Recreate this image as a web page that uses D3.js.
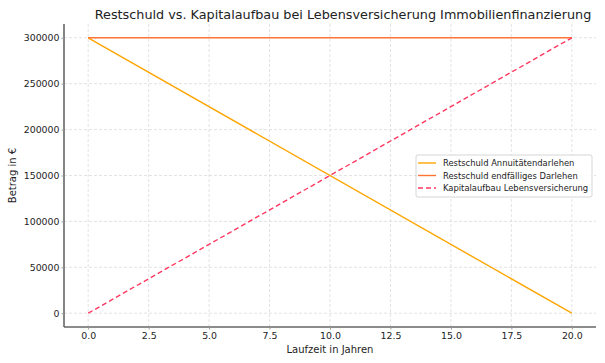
<!DOCTYPE html>
<html><head><meta charset="utf-8">
<script src="https://cdn.jsdelivr.net/npm/d3@7"></script>
<style>body{margin:0;background:#fff}svg{display:block}text{font-family:"DejaVu Sans",sans-serif;fill:#222}</style>
</head><body><svg id="c" width="605" height="363"></svg>
<script>
const years = [0, 20];
const annuitaet = [300000, 0];
const endfaellig = [300000, 300000];
const kapital = [0, 300000];
const xTicks = [0, 2.5, 5, 7.5, 10, 12.5, 15, 17.5, 20];
const yTicks = [0, 50000, 100000, 150000, 200000, 250000, 300000];
const seriesNames = ["Restschuld Annuitätendarlehen", "Restschuld endfälliges Darlehen", "Kapitalaufbau Lebensversicherung"];
const colors = ["#ffa500", "#ff7433", "#ff3860"];
const dashes = [null, null, "5,3"];

const svg = d3.select("#c");
const L = 64, R = 596, T = 24, B = 327;
const x = d3.scaleLinear().domain([-1, 21]).range([L, R]);
const y = d3.scaleLinear().domain([-15000, 315000]).range([B, T]);

// grid
svg.append("g").selectAll("line").data(xTicks).join("line")
  .attr("x1", d => x(d)).attr("x2", d => x(d)).attr("y1", T).attr("y2", B)
  .attr("stroke", "#dcdcdc").attr("stroke-width", 0.8).attr("stroke-dasharray", "3,2");
svg.append("g").selectAll("line").data(yTicks).join("line")
  .attr("y1", d => y(d)).attr("y2", d => y(d)).attr("x1", L).attr("x2", R)
  .attr("stroke", "#dcdcdc").attr("stroke-width", 0.8).attr("stroke-dasharray", "3,2");

// axes
const xa = svg.append("g").attr("transform", `translate(0,${B})`)
  .call(d3.axisBottom(x).tickValues(xTicks).tickFormat(d3.format(".1f")).tickSize(2.5).tickPadding(3));
const ya = svg.append("g").attr("transform", `translate(${L},0)`)
  .call(d3.axisLeft(y).tickValues(yTicks).tickFormat(d => String(d)).tickSize(2.5).tickPadding(2));
[xa, ya].forEach(g => {
  g.select(".domain").attr("stroke", "#666").attr("stroke-width", 1.6);
  g.selectAll(".tick line").attr("stroke", "#999");
  g.selectAll(".tick text").attr("font-size", "9.4px").attr("font-family", '"DejaVu Sans",sans-serif').attr("fill", "#333");
});
xa.select(".domain").attr("d", `M${L},0H${R}`);
ya.select(".domain").attr("d", `M0,${B}V${T}`);

// lines
const data = [annuitaet, endfaellig, kapital];
const line = d3.line().x((d, i) => x(years[i])).y(d => y(d));
data.forEach((s, i) => {
  svg.append("path").datum(s).attr("d", line).attr("fill", "none")
    .attr("stroke", colors[i]).attr("stroke-width", 1.4)
    .attr("stroke-dasharray", dashes[i]);
});

// title & labels
svg.append("text").attr("x", 343).attr("y", 19).attr("text-anchor", "middle")
  .attr("font-size", "12.8px").text("Restschuld vs. Kapitalaufbau bei Lebensversicherung Immobilienfinanzierung");
svg.append("text").attr("x", (L + R) / 2).attr("y", 353).attr("text-anchor", "middle")
  .attr("font-size", "10px").text("Laufzeit in Jahren");
svg.append("text").attr("transform", `translate(16,${(T + B) / 2}) rotate(-90)`).attr("text-anchor", "middle")
  .attr("font-size", "10px").text("Betrag in €");

// legend
const lg = svg.append("g").attr("transform", "translate(416,155)");
lg.append("rect").attr("width", 176).attr("height", 42).attr("rx", 2)
  .attr("fill", "white").attr("fill-opacity", 0.85).attr("stroke", "#ccc").attr("stroke-width", 0.8);
seriesNames.forEach((n, i) => {
  const yy = 8 + i * 12.5;
  lg.append("line").attr("x1", 2).attr("x2", 20).attr("y1", yy).attr("y2", yy)
    .attr("stroke", colors[i]).attr("stroke-width", 1.4).attr("stroke-dasharray", dashes[i]);
  lg.append("text").attr("x", 27).attr("y", yy + 3).attr("font-size", "8.4px").attr("fill", "#333").text(n);
});
</script></body></html>
